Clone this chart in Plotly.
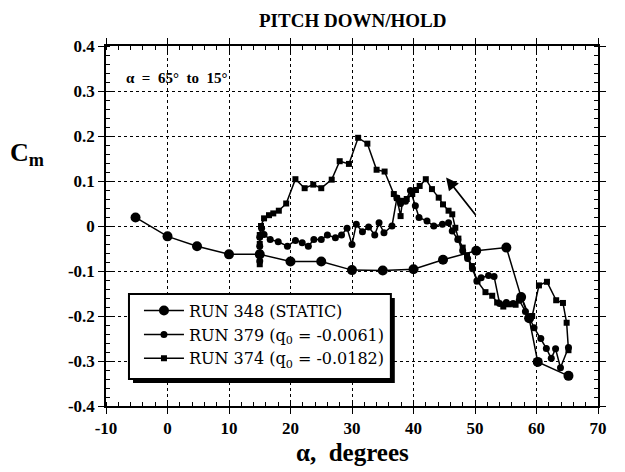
import plotly.graph_objects as go

# ---------------- data ----------------
static_alpha = [-5.2, 0, 4.8, 10, 15, 20, 25, 30, 35, 40, 44.8, 50.2, 55.1, 57.5, 58.8, 60.2, 65.2]
static_cm = [0.019, -0.023, -0.045, -0.063, -0.063, -0.079, -0.079, -0.098, -0.099, -0.096,
             -0.075, -0.055, -0.048, -0.158, -0.205, -0.302, -0.333]

run379_alpha = [65.2, 63.9, 63.1, 62.4, 61.6, 60.7, 59.6, 58.9, 58.2, 57.2, 56.2, 55.1, 54.0, 53.1,
                52.2, 51.0, 50.3, 49.6, 48.8, 48.0, 47.2, 46.3, 45.7, 44.7, 43.3, 42.2, 40.9, 40.3,
                39.5, 38.7, 37.9, 37.3, 36.5, 35.2, 34.4, 33.7, 32.7, 31.7, 30.7, 30.0, 29.2, 28.3,
                27.3, 26.0, 25.0, 23.8, 22.9, 21.9, 20.8, 19.5, 18.0, 16.7, 15.7, 15.3, 15.0, 15.0,
                15.0, 15.0]
run379_cm = [-0.270, -0.315, -0.273, -0.294, -0.272, -0.250, -0.226, -0.205, -0.190, -0.165, -0.172,
             -0.170, -0.172, -0.112, -0.110, -0.115, -0.122, -0.095, -0.072, -0.055, -0.030, -0.011,
             0.007, 0.004, 0.000, 0.011, 0.019, 0.045, 0.079, 0.055, 0.050, 0.062, 0.000, -0.015,
             0.007, -0.020, -0.002, -0.013, 0.004, -0.041, -0.005, -0.020, -0.026, -0.020, -0.030,
             -0.030, -0.045, -0.037, -0.032, -0.045, -0.035, -0.030, -0.019, -0.005, -0.025, -0.045,
             -0.062, -0.078]

run374_alpha = [65.2, 64.9, 64.3, 63.2, 61.7, 60.4, 59.3, 58.9, 57.6, 56.6, 55.5, 54.6, 53.6, 52.8,
                51.7, 50.4, 49.5, 48.7, 48.0, 47.3, 46.8, 46.3, 45.7, 44.8, 44.1, 43.0, 42.0, 41.0,
                40.4, 39.8, 38.9, 38.2, 37.9, 37.3, 36.8, 35.3, 34.0, 32.5, 31.0, 29.5, 28.0, 26.7,
                25.0, 23.7, 22.3, 20.8, 19.3, 18.1, 17.2, 16.5, 15.7, 15.2, 15.0, 15.0, 15.0, 15.0]
run374_cm = [-0.276, -0.215, -0.171, -0.165, -0.124, -0.132, -0.200, -0.205, -0.159, -0.175, -0.174,
             -0.179, -0.170, -0.155, -0.147, -0.123, -0.089, -0.065, -0.048, -0.028, -0.004, 0.026,
             0.034, 0.048, 0.063, 0.082, 0.104, 0.089, 0.080, 0.071, 0.060, 0.056, 0.022, 0.062,
             0.071, 0.121, 0.125, 0.183, 0.196, 0.138, 0.144, 0.103, 0.084, 0.092, 0.084, 0.104,
             0.050, 0.034, 0.028, 0.024, 0.017, 0.000, -0.020, -0.040, -0.060, -0.085]

x_ticks = [-10, 0, 10, 20, 30, 40, 50, 60, 70]
x_ticktext = ["-10", "0", "10", "20", "30", "40", "50", "60", "70"]
y_ticks = [-0.4, -0.3, -0.2, -0.1, 0, 0.1, 0.2, 0.3, 0.4]
y_ticktext = ["-0.4", "-0.3", "-0.2", "-0.1", "0", "0.1", "0.2", "0.3", "0.4"]

arrow_tail = (50.3, 0.021)
arrow_head = (45.3, 0.108)

FONT = "Liberation Serif"
LEGEND_FONT = "DejaVu Serif"

fig = go.Figure()
fig.add_trace(go.Scatter(x=static_alpha, y=static_cm, mode="lines+markers",
                         name="RUN 348 (STATIC)",
                         line=dict(color="black", width=1.5),
                         marker=dict(symbol="circle", size=10, color="black")))
fig.add_trace(go.Scatter(x=run379_alpha, y=run379_cm, mode="lines+markers",
                         name="RUN 379 (q<sub>0</sub> = -0.0061)",
                         line=dict(color="black", width=1.5),
                         marker=dict(symbol="circle", size=7, color="black")))
fig.add_trace(go.Scatter(x=run374_alpha, y=run374_cm, mode="lines+markers",
                         name="RUN 374 (q<sub>0</sub> = -0.0182)",
                         line=dict(color="black", width=1.5),
                         marker=dict(symbol="square", size=6, color="black")))

# overlay axes for the inside half of crossing ticks
fig.add_trace(go.Scatter(x=[None], y=[None], xaxis="x2", yaxis="y2", showlegend=False))

axis_common = dict(showline=True, linecolor="black", linewidth=1.5, mirror="ticks",
                   tickcolor="black", tickwidth=1.2, zeroline=False, automargin=False,
                   tickfont=dict(family=FONT, size=17, color="black", weight="bold"))

fig.update_layout(
    width=625, height=472,
    font=dict(family=FONT, color="black"),
    margin=dict(l=98, r=35, t=38, b=74),
    paper_bgcolor="white", plot_bgcolor="white",
    showlegend=True,
    xaxis=dict(range=[-10, 70], tickvals=x_ticks, ticktext=x_ticktext,
               ticks="outside", ticklen=6,
               showgrid=True, gridcolor="black", gridwidth=1, griddash="dot",
               minor=dict(ticks="inside", dtick=2, ticklen=4, tickcolor="black", showgrid=False),
               **axis_common),
    yaxis=dict(range=[-0.4, 0.4], tickvals=y_ticks, ticktext=y_ticktext,
               ticks="outside", ticklen=6,
               showgrid=True, gridcolor="black", gridwidth=1, griddash="dot",
               minor=dict(ticks="inside", dtick=0.02, ticklen=4, tickcolor="black", showgrid=False),
               **axis_common),
    xaxis2=dict(range=[-10, 70], overlaying="x", tickvals=x_ticks, ticks="inside", ticklen=6,
                showticklabels=False, showgrid=False, showline=False, mirror="ticks",
                tickcolor="black", tickwidth=1.2, zeroline=False, automargin=False),
    yaxis2=dict(range=[-0.4, 0.4], overlaying="y", tickvals=y_ticks, ticks="inside", ticklen=6,
                showticklabels=False, showgrid=False, showline=False, mirror="ticks",
                tickcolor="black", tickwidth=1.2, zeroline=False, automargin=False),
    legend=dict(x=0.067, y=0.312, xanchor="left", yanchor="top",
                bgcolor="rgba(0,0,0,0)", borderwidth=0,
                font=dict(family=LEGEND_FONT, size=16, color="black"),
                tracegroupgap=0, itemwidth=40),
)

fig.add_annotation(text="<b>PITCH DOWN/HOLD</b>", xref="paper", yref="paper",
                   x=0.5, y=1.0, yshift=26, yanchor="middle", showarrow=False,
                   font=dict(family=FONT, size=19, color="black"))
fig.add_annotation(text="<b>α\u00a0\u00a0=\u00a0\u00a065°\u00a0\u00a0to\u00a0\u00a015°</b>",
                   xref="paper", yref="paper",
                   x=0.0366, y=0.911, xanchor="left", yanchor="middle", showarrow=False,
                   font=dict(family=FONT, size=15, color="black"))
fig.add_annotation(text="<b>C<sub>m</sub></b>", xref="paper", yref="paper",
                   x=-0.16, y=0.70, xanchor="center", yanchor="middle", showarrow=False,
                   font=dict(family=FONT, size=26, color="black"))
fig.add_annotation(text="<b>α,\u00a0\u00a0degrees</b>", xref="paper", yref="paper",
                   x=0.5, y=0, yshift=-46, yanchor="middle", showarrow=False,
                   font=dict(family=FONT, size=25, color="black"))
fig.add_annotation(x=arrow_head[0], y=arrow_head[1], ax=arrow_tail[0], ay=arrow_tail[1],
                   xref="x", yref="y", axref="x", ayref="y", text="", showarrow=True,
                   arrowhead=2, arrowsize=1.4, arrowwidth=1.8, arrowcolor="black")

# legend frame with drop shadow
fig.add_shape(type="rect", xref="paper", yref="paper",
              x0=0.0549, x1=0.587, y0=0.0639, y1=0.300,
              fillcolor="black", line=dict(width=0), layer="above")
fig.add_shape(type="rect", xref="paper", yref="paper",
              x0=0.0467, x1=0.579, y0=0.075, y1=0.311,
              fillcolor="white", line=dict(color="black", width=2), layer="above")

fig.write_html("out.html")
